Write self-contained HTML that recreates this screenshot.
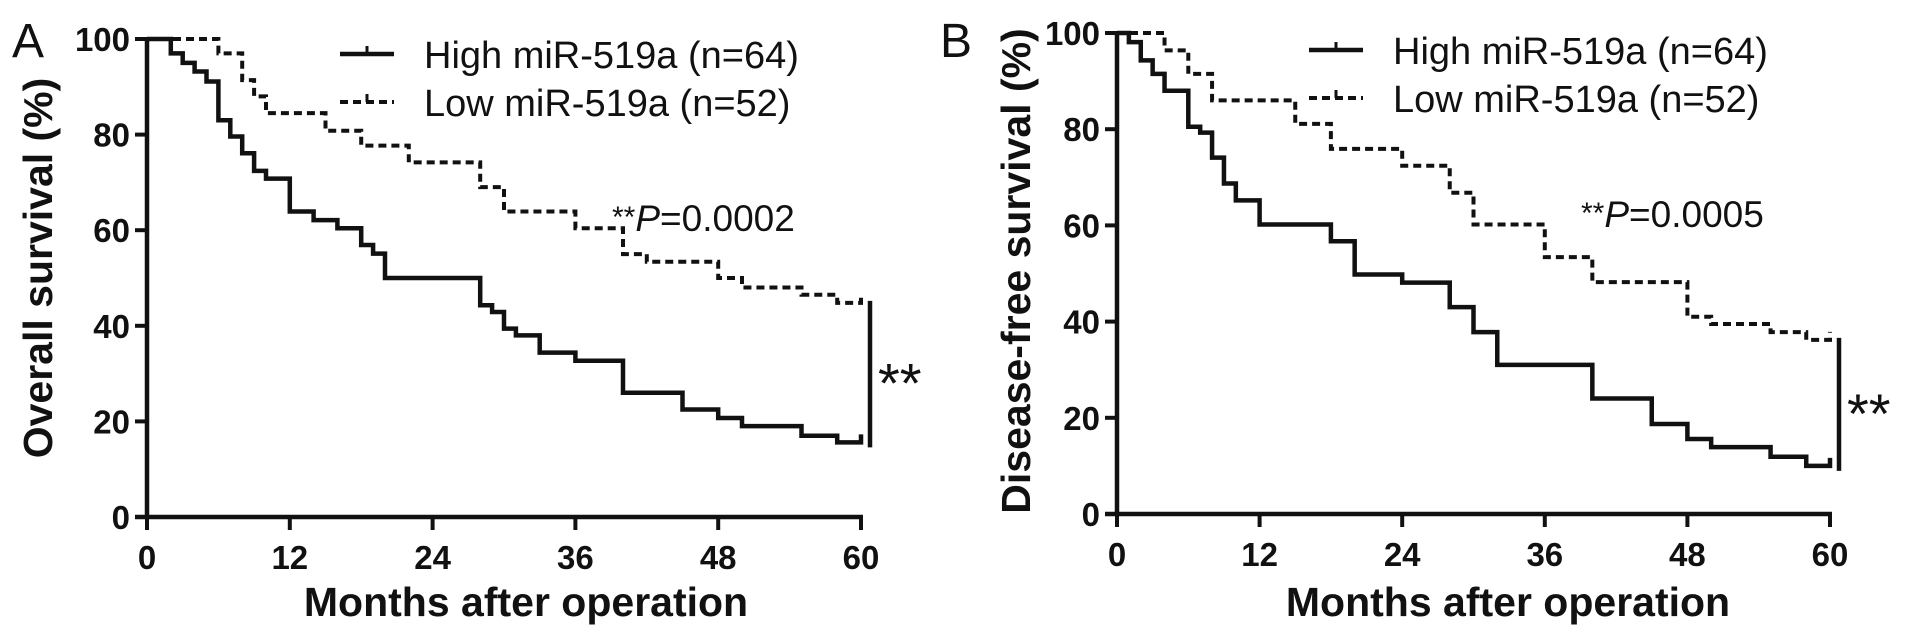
<!DOCTYPE html>
<html><head><meta charset="utf-8"><style>
html,body{margin:0;padding:0;background:#fff;}
svg{display:block;}
text{font-family:"Liberation Sans",Arial,sans-serif;fill:#111;}
</style></head><body>
<svg id="fig" width="1913" height="641" viewBox="0 0 1913 641" xmlns="http://www.w3.org/2000/svg"></svg>
<script>
// ---- data ----
const xTicks = [0, 12, 24, 36, 48, 60];
const yTicks = [0, 20, 40, 60, 80, 100];
// Panel A: overall survival
const aHighTimes = [0, 2, 3, 4, 5, 6, 7, 8, 9, 10, 12, 14, 16, 18, 19, 20, 28, 29, 30, 31, 33, 36, 40, 45, 48, 50, 55, 58];
const aHighValues = [100, 97, 95, 93.2, 91.1, 83, 79.6, 76.1, 72.4, 70.8, 63.9, 62.1, 60.4, 56.9, 55.1, 50, 44.3, 42.9, 39.4, 38, 34.4, 32.7, 26, 22.5, 20.7, 19, 17, 15.6];
const aLowTimes = [0, 6, 8, 9, 10, 15, 18, 22, 28, 30, 36, 40, 42, 48, 50, 55, 58];
const aLowValues = [100, 97, 91.4, 88, 84.5, 80.8, 77.7, 74.2, 69, 63.9, 60.4, 55, 53.4, 50, 48, 46.5, 44.8];
// Panel B: disease-free survival
const bHighTimes = [0, 1, 2, 3, 4, 6, 7, 8, 9, 10, 12, 18, 20, 24, 28, 30, 32, 40, 45, 48, 50, 55, 58];
const bHighValues = [100, 98.1, 94.3, 91.5, 88, 80.5, 79.3, 74.1, 68.7, 65.2, 60.2, 56.7, 49.8, 48.1, 43, 37.8, 31, 24, 18.7, 15.6, 13.9, 11.9, 10];
const bLowTimes = [0, 4, 6, 8, 15, 18, 24, 28, 30, 36, 40, 48, 50, 55, 58];
const bLowValues = [100, 96.4, 91.5, 86, 81.1, 75.9, 72.4, 66.8, 60.2, 53.4, 48.2, 41, 39.5, 37.8, 36.2];
const xMax = 60;

const NS = "http://www.w3.org/2000/svg";
const svg = document.getElementById('fig');
function mk(tag, attrs, parent) {
  const e = document.createElementNS(NS, tag);
  for (const k in attrs) e.setAttribute(k, attrs[k]);
  (parent || svg).appendChild(e);
  return e;
}
function txt(s, attrs, parent) { const t = mk('text', attrs, parent); t.textContent = s; return t; }

function panel(cfg) {
  const g = mk('g', {});
  
  
  const X = t => cfg.x0 + (t / xMax) * (cfg.x1 - cfg.x0);
  const Y = v => cfg.y0 - (v / 100) * (cfg.y0 - cfg.y100);

  // axes
  const ya = mk('line', {x1: X(0), y1: Y(100), x2: X(0), y2: Y(0), stroke: '#111', 'stroke-width': 4.5}, g);
  
  
  const xa = mk('line', {x1: X(0) - 12, y1: Y(0), x2: X(60) + 2, y2: Y(0), stroke: '#111', 'stroke-width': 4.5}, g);
  
  
  yTicks.forEach(v => {
    mk('line', {x1: X(0) - 12, y1: Y(v), x2: X(0), y2: Y(v), stroke: '#111', 'stroke-width': 4}, g);
    const t = txt(String(v), {x: X(0) - 17, y: Y(v) + 12, 'font-size': 33, 'font-weight': 'bold', 'text-anchor': 'end'}, g);
    
    
  });
  xTicks.forEach(m => {
    mk('line', {x1: X(m), y1: Y(0), x2: X(m), y2: Y(0) + 13, stroke: '#111', 'stroke-width': 4}, g);
    const t = txt(String(m), {x: X(m), y: Y(0) + 52, 'font-size': 33, 'font-weight': 'bold', 'text-anchor': 'middle'}, g);
    
    
  });

  function stepPath(times, vals) {
    let d = 'M' + X(times[0]) + ' ' + Y(vals[0]);
    for (let i = 1; i < times.length; i++) {
      d += ' H' + X(times[i]) + ' V' + Y(vals[i]);
    }
    d += ' H' + X(xMax);
    return d;
  }
  const lowEnd = cfg.lowV[cfg.lowV.length - 1];
  const highEnd = cfg.highV[cfg.highV.length - 1];
  const low = mk('path', {d: stepPath(cfg.lowT, cfg.lowV) + ' V' + (Y(lowEnd) - 8), fill: 'none', stroke: '#111', 'stroke-width': 4, 'stroke-dasharray': '8 5'}, g);
  
  
  const high = mk('path', {d: stepPath(cfg.highT, cfg.highV) + ' V' + (Y(highEnd) - 8), fill: 'none', stroke: '#111', 'stroke-width': 4.5}, g);
  
  

  // significance bar
  const bar = mk('line', {x1: X(60) + 9, y1: Y(lowEnd) - 2, x2: X(60) + 9, y2: Y(highEnd) + 5, stroke: '#111', 'stroke-width': 4.5}, g);
  
  
  const st = txt('**', {x: X(60) + 17, y: Y((lowEnd + highEnd) / 2) + 30, 'font-size': 56}, g);
  
  

  // p-value
  const p = txt('', {x: cfg.px, y: cfg.py, 'font-size': 37}, g);
  
  
  const s1 = mk('tspan', {'font-size': 30, dy: -4}, p); s1.textContent = '**';
  const s2 = mk('tspan', {'font-style': 'italic', dy: 4}, p); s2.textContent = 'P';
  const s3 = mk('tspan', {}, p); s3.textContent = '=' + cfg.pval;

  // legend
  const lg = mk('g', {}, g);
  
  
  mk('line', {x1: cfg.lx, y1: cfg.ly, x2: cfg.lx + 54, y2: cfg.ly, stroke: '#111', 'stroke-width': 4.5}, lg);
  mk('line', {x1: cfg.lx + 27, y1: cfg.ly, x2: cfg.lx + 27, y2: cfg.ly - 8, stroke: '#111', 'stroke-width': 3}, lg);
  const l1 = txt('High miR-519a (n=64)', {x: cfg.lx + 84, y: cfg.ly + 14, 'font-size': 38}, lg);
  
  
  mk('line', {x1: cfg.lx, y1: cfg.ly + 48, x2: cfg.lx + 54, y2: cfg.ly + 48, stroke: '#111', 'stroke-width': 4, 'stroke-dasharray': '8 5'}, lg);
  mk('line', {x1: cfg.lx + 27, y1: cfg.ly + 48, x2: cfg.lx + 27, y2: cfg.ly + 40, stroke: '#111', 'stroke-width': 3}, lg);
  const l2 = txt('Low miR-519a (n=52)', {x: cfg.lx + 84, y: cfg.ly + 62, 'font-size': 38}, lg);
  
  

  // titles
  const xt = txt('Months after operation', {x: cfg.xtx, y: 616, 'font-size': 41, 'font-weight': 'bold', 'text-anchor': 'middle'}, g);
  
  
  const yt = txt(cfg.ytitle, {x: 0, y: 0, 'font-size': 41, 'font-weight': 'bold', 'text-anchor': 'middle', transform: 'translate(' + cfg.ytx + ',' + cfg.yty + ') rotate(-90)'}, g);
  
  
  const pl = txt(cfg.letter, {x: cfg.letX, y: 57, 'font-size': 48}, g);
  
  
}

panel({name: 'panel-a-overall-survival', x0: 147, x1: 861, y0: 517, y100: 39,
  highT: aHighTimes, highV: aHighValues, lowT: aLowTimes, lowV: aLowValues,
  px: 612, py: 231, pval: '0.0002', lx: 340, ly: 54, xtx: 526, ytitle: 'Overall survival (%)',
  ytx: 52, yty: 268, letter: 'A', letX: 12});
panel({name: 'panel-b-disease-free-survival', x0: 1117, x1: 1830, y0: 514, y100: 33,
  highT: bHighTimes, highV: bHighValues, lowT: bLowTimes, lowV: bLowValues,
  px: 1581, py: 227, pval: '0.0005', lx: 1309, ly: 50, xtx: 1508, ytitle: 'Disease-free survival (%)',
  ytx: 1030, yty: 271, letter: 'B', letX: 940});
</script>
</body></html>
